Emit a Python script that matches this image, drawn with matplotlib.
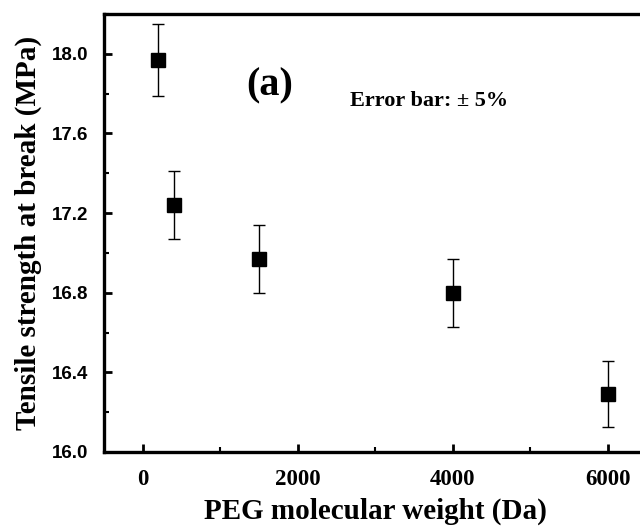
import matplotlib
matplotlib.use('Agg')
import matplotlib.pyplot as plt
from matplotlib.ticker import MultipleLocator, FormatStrFormatter

# Data
peg_mw = [200, 400, 1500, 4000, 6000]
strength = [17.97, 17.24, 16.97, 16.80, 16.29]
err = [0.18, 0.17, 0.17, 0.17, 0.165]

fig = plt.figure(figsize=(6.4, 5.31), dpi=100)
ax = fig.add_axes([0.1625, 0.1488, 0.848, 0.8248])

ax.errorbar(peg_mw, strength, yerr=err, fmt='s', color='black', ms=9.5,
            ecolor='black', elinewidth=1.0, capsize=4, capthick=1.0)

ax.set_xlim(-500, 6500)
ax.set_ylim(16.0, 18.2)
ax.xaxis.set_major_locator(MultipleLocator(2000))
ax.xaxis.set_minor_locator(MultipleLocator(1000))
ax.yaxis.set_major_locator(MultipleLocator(0.4))
ax.yaxis.set_minor_locator(MultipleLocator(0.2))
ax.yaxis.set_major_formatter(FormatStrFormatter('%.1f'))
ax.tick_params(which='major', direction='in', length=5.5, width=2)
ax.tick_params(which='minor', direction='in', length=3.5, width=1.5)
ax.tick_params(top=False, right=False, which='both')
ax.tick_params(axis='x', pad=12)
ax.tick_params(axis='y', pad=11)

for s in ax.spines.values():
    s.set_linewidth(2.4)

for lab in ax.get_xticklabels():
    lab.set_fontfamily('Liberation Serif')
    lab.set_fontweight('bold')
    lab.set_fontsize(16.5)
for lab in ax.get_yticklabels():
    lab.set_fontfamily('Liberation Sans')
    lab.set_fontweight('bold')
    lab.set_fontsize(13.5)

ax.set_xlabel('PEG molecular weight (Da)', fontfamily='Liberation Serif',
              fontweight='bold', fontsize=21, labelpad=6)
ax.set_ylabel('Tensile strength at break (MPa)', fontfamily='Liberation Serif',
              fontweight='bold', fontsize=21, labelpad=7)

ax.text(1330, 17.84, '(a)', fontfamily='Liberation Serif', fontweight='bold',
        fontsize=29, va='center', ha='left')
ax.text(2670, 17.765, 'Error bar: \u00b1 5%', fontfamily='Liberation Serif',
        fontweight='bold', fontsize=16, va='center', ha='left')

fig.savefig('out.png', dpi=100)
